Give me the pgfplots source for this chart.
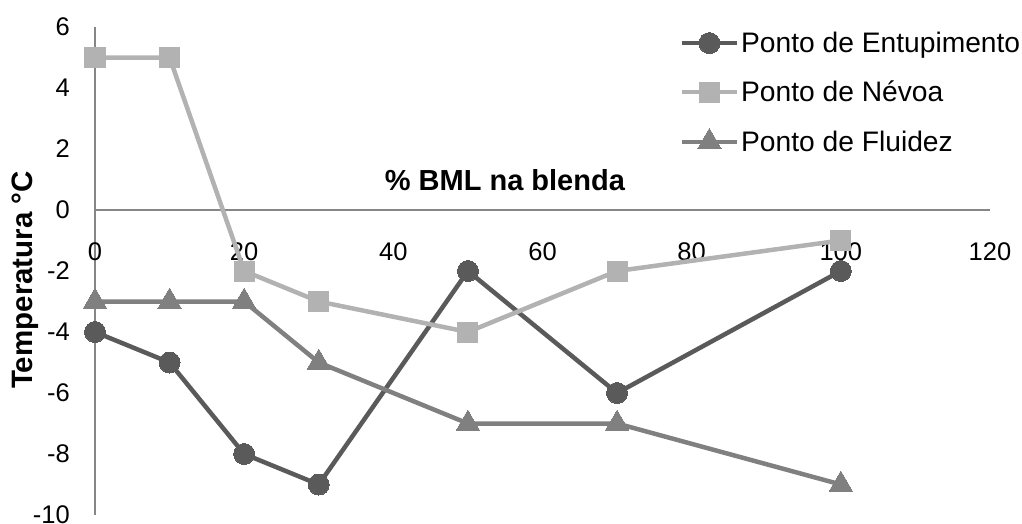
\documentclass[border=0pt]{standalone}
\usepackage{fontspec}
\setmainfont{Liberation Sans}
\usepackage{pgfplots}
\pgfplotsset{compat=1.18}
\definecolor{cEnt}{HTML}{5A5A5A}
\definecolor{cNev}{HTML}{B2B2B2}
\definecolor{cFlu}{HTML}{808080}
\definecolor{cAx}{HTML}{868686}
\begin{document}
\begin{tikzpicture}[x=1pt,y=1pt]
\useasboundingbox (0,0) rectangle (1022,523);
\begin{axis}[
  scale only axis,
  width=895pt, height=488pt,
  at={(95pt,8pt)}, anchor=south west,
  xmin=0, xmax=120, ymin=-10, ymax=6,
  axis x line=middle, axis y line=left,
  hide obscured x ticks=false, hide obscured y ticks=false,
  axis line style={draw=cAx, line width=1.5pt, -},
  xtick={0,20,...,120}, ytick={-10,-8,...,6},
  major tick length=0pt,
  /pgf/number format/assume math mode=true,
  xticklabel style={anchor=north, inner sep=0pt, yshift=-32pt, font=\fontsize{25.5}{30}\selectfont},
  yticklabel style={anchor=east, inner sep=0pt, xshift=-25pt, font=\fontsize{25.5}{30}\selectfont},
  xlabel={\% BML na blenda},
  xlabel style={at={(axis description cs:0.458,0.686)}, anchor=center, font=\bfseries\fontsize{29}{34}\selectfont},
  ylabel={Temperatura °C},
  ylabel style={at={(axis description cs:-0.078,0.4816)}, anchor=center, rotate=0, font=\bfseries\fontsize{29.5}{34}\selectfont},
  clip=false,
  legend cell align=left,
  legend image code/.code={\draw[mark repeat=2,mark phase=2,#1] plot coordinates {(0pt,0pt)(27.5pt,0pt)(55pt,0pt)};},
  legend style={draw=none, fill=none, at={(axis description cs:0.653,0.994)}, anchor=north west,
    font=\fontsize{28.2}{34}\selectfont, row sep=23pt, inner sep=0pt, nodes={inner sep=2pt}},
]
\addplot[cEnt, line width=4.5pt, mark=*, mark size=10.5pt, mark options={fill=cEnt, draw=cEnt, line width=0pt}]
  coordinates {(0,-4) (10,-5) (20,-8) (30,-9) (50,-2) (70,-6) (100,-2)};
\addlegendentry{Ponto de Entupimento}
\addplot[cNev, line width=4.5pt, mark=square*, mark size=10pt, mark options={fill=cNev, draw=cNev, line width=0pt}]
  coordinates {(0,5) (10,5) (20,-2) (30,-3) (50,-4) (70,-2) (100,-1)};
\addlegendentry{Ponto de Névoa}
\addplot[cFlu, line width=4.5pt, mark=triangle*, mark size=13.5pt, mark options={fill=cFlu, draw=cFlu, line width=0pt}]
  coordinates {(0,-3) (10,-3) (20,-3) (30,-5) (50,-7) (70,-7) (100,-9)};
\addlegendentry{Ponto de Fluidez}
\end{axis}
\end{tikzpicture}
\end{document}
